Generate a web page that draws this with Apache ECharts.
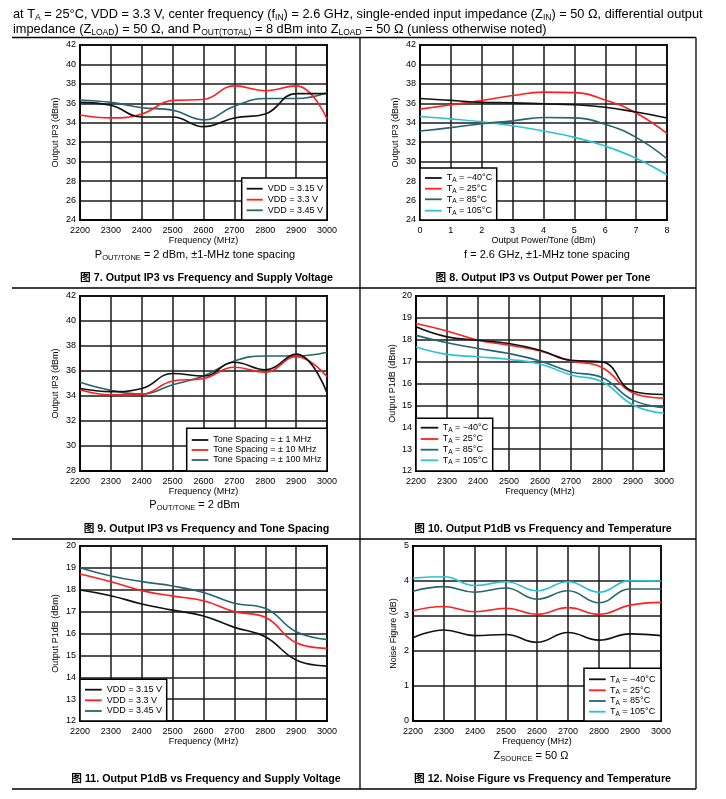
<!DOCTYPE html>
<html><head><meta charset="utf-8">
<script src="https://cdn.jsdelivr.net/npm/echarts@6/dist/echarts.min.js"></script>
<style>html,body{margin:0;padding:0;background:#fff}#c{width:726px;height:799px}</style>
</head><body><div id="c"></div>
<script>
const FONT = '"Liberation Sans", Arial, "Noto Sans CJK SC", sans-serif';
const CFONT = '"Liberation Sans", Arial, "Noto Sans CJK SC", sans-serif';

// ---------- data ----------
const freq = [2200, 2300, 2400, 2500, 2600, 2700, 2800, 2900, 3000];
const powerTone = [0, 1, 2, 3, 4, 5, 6, 7, 8];

// Fig 7: Output IP3 vs frequency, supply voltage
const f7_vdd315 = [36.1, 35.8, 34.6, 34.6, 33.6, 34.5, 34.9, 37.0, 37.0];
const f7_vdd33  = [34.8, 34.5, 34.9, 36.3, 36.4, 37.8, 37.3, 37.8, 34.4];
const f7_vdd345 = [36.35, 36.1, 35.55, 35.3, 34.3, 35.7, 36.5, 36.5, 37.1];

// Fig 8: Output IP3 vs output power per tone, temperature
const f8_m40  = [36.5, 36.3, 36.1, 36.05, 35.95, 35.85, 35.6, 35.1, 34.5];
const f8_25   = [35.4, 35.85, 36.3, 36.8, 37.15, 37.1, 36.35, 35.0, 32.9];
const f8_85   = [33.15, 33.5, 33.9, 34.2, 34.55, 34.5, 33.85, 32.5, 30.3];
const f8_105  = [34.65, 34.4, 34.1, 33.7, 33.15, 32.5, 31.6, 30.35, 28.65];

// Fig 9: Output IP3 vs frequency, tone spacing
const f9_1   = [34.6, 34.35, 34.6, 35.8, 35.6, 36.7, 36.1, 37.35, 34.25];
const f9_10  = [34.5, 34.1, 34.15, 35.2, 35.4, 36.3, 35.9, 37.15, 35.55];
const f9_100 = [35.1, 34.45, 34.15, 34.9, 35.6, 36.8, 37.2, 37.2, 37.5];

// Fig 10: Output P1dB vs frequency, temperature
const f10_m40 = [18.59, 18.13, 17.98, 17.83, 17.52, 17.06, 16.99, 15.65, 15.5];
const f10_25  = [18.74, 18.4, 17.98, 17.75, 17.49, 17.03, 16.73, 15.57, 15.33];
const f10_85  = [18.2, 17.86, 17.6, 17.37, 17.03, 16.53, 16.27, 15.24, 14.9];
const f10_105 = [17.67, 17.33, 17.22, 17.1, 16.89, 16.39, 16.08, 15.02, 14.64];

// Fig 11: Output P1dB vs frequency, supply voltage
const f11_vdd315 = [17.99, 17.73, 17.35, 17.07, 16.8, 16.28, 15.85, 14.79, 14.51];
const f11_vdd33  = [18.72, 18.37, 17.96, 17.71, 17.5, 17.0, 16.74, 15.58, 15.32];
const f11_vdd345 = [19.01, 18.63, 18.37, 18.17, 17.87, 17.38, 17.15, 16.08, 15.73];

// Fig 12: Noise figure vs frequency, temperature
const f12_m40 = [2.38, 2.6, 2.44, 2.47, 2.25, 2.53, 2.31, 2.49, 2.44];
const f12_25  = [3.15, 3.27, 3.12, 3.22, 3.05, 3.24, 3.05, 3.31, 3.39];
const f12_85  = [3.71, 3.84, 3.68, 3.8, 3.48, 3.72, 3.38, 3.77, 3.77];
const f12_105 = [4.08, 4.12, 3.87, 3.98, 3.72, 3.98, 3.68, 4.01, 4.0];

// ---------- text ----------
const vddLabels  = ['VDD = 3.15 V', 'VDD = 3.3 V', 'VDD = 3.45 V'];
const tempLabels = ['T{s|A} = \u221240\u00B0C', 'T{s|A} = 25\u00B0C', 'T{s|A} = 85\u00B0C', 'T{s|A} = 105\u00B0C'];
const toneLabels = ['Tone Spacing = \u00B1 1 MHz', 'Tone Spacing = \u00B1 10 MHz', 'Tone Spacing = \u00B1 100 MHz'];
const headerLines = [
  'at T{s|A} = 25\u00B0C, VDD = 3.3 V, center frequency (f{s|IN}) = 2.6 GHz, single-ended input impedance (Z{s|IN}) = 50 \u03A9, differential output',
  'impedance (Z{s|LOAD}) = 50 \u03A9, and P{s|OUT(TOTAL)} = 8 dBm into Z{s|LOAD} = 50 \u03A9 (unless otherwise noted)'
];
const captions = [
  '\u56FE 7. Output IP3 vs Frequency and Supply Voltage',
  '\u56FE 8. Output IP3 vs Output Power per Tone',
  '\u56FE 9. Output IP3 vs Frequency and Tone Spacing',
  '\u56FE 10. Output P1dB vs Frequency and Temperature',
  '\u56FE 11. Output P1dB vs Frequency and Supply Voltage',
  '\u56FE 12. Noise Figure vs Frequency and Temperature'
];
const subtitles = [
  'P{s|OUT/TONE} = 2 dBm, \u00B11-MHz tone spacing',
  'f = 2.6 GHz, \u00B11-MHz tone spacing',
  'P{s|OUT/TONE} = 2 dBm',
  '',
  '',
  'Z{s|SOURCE} = 50 \u03A9'
];
const freqName = 'Frequency (MHz)';
const ip3Name = 'Output IP3 (dBm)';
const p1dbName = 'Output P1dB (dBm)';
const nfName = 'Noise Figure (dB)';
const powName = 'Output Power/Tone (dBm)';

// ---------- style ----------
const C_BLACK = '#111111', C_RED = '#ff1f1f', C_TEAL = '#266470', C_CYAN = '#2cc2d4';
const col3 = [C_BLACK, C_RED, C_TEAL];
const col4 = [C_BLACK, C_RED, C_TEAL, C_CYAN];

const panels = [
  { grid: {left: 80, top: 45, width: 247, height: 175}, xs: freq, xr: [2200, 3000, 100], yr: [24, 42, 2],
    xName: freqName, yName: ip3Name, yGap: 20, ys: [f7_vdd315, f7_vdd33, f7_vdd345], labels: vddLabels, colors: col3,
    leg: {x: 241.7, y: 178, w: 85.3, h: 42, rows: [188.7, 199.7, 210.3], sx: 246.7, sw: 16, tx: 267.7},
    sub: [195, 255], cap: [206.5, 278] },
  { grid: {left: 420, top: 45, width: 247, height: 175}, xs: powerTone, xr: [0, 8, 1], yr: [24, 42, 2],
    xName: powName, yName: ip3Name, yGap: 20, ys: [f8_m40, f8_25, f8_85, f8_105], labels: tempLabels, colors: col4,
    leg: {x: 420, y: 168, w: 76.7, h: 52, rows: [178, 188.7, 199.3, 210.7], sx: 425, sw: 16.7, tx: 446.7},
    sub: [547, 255], cap: [543, 278] },
  { grid: {left: 80, top: 296, width: 247, height: 175}, xs: freq, xr: [2200, 3000, 100], yr: [28, 42, 2],
    xName: freqName, yName: ip3Name, yGap: 20, ys: [f9_1, f9_10, f9_100], labels: toneLabels, colors: col3,
    leg: {x: 186.7, y: 428.3, w: 140.3, h: 42.7, rows: [440, 450, 460], sx: 191.7, sw: 16.6, tx: 213.3},
    sub: [194.5, 505], cap: [206.5, 529] },
  { grid: {left: 416, top: 296, width: 248, height: 175}, xs: freq, xr: [2200, 3000, 100], yr: [12, 20, 1],
    xName: freqName, yName: p1dbName, yGap: 19, ys: [f10_m40, f10_25, f10_85, f10_105], labels: tempLabels, colors: col4,
    leg: {x: 416, y: 418.3, w: 76.7, h: 52.7, rows: [427.7, 439, 449.7, 460.3], sx: 420.7, sw: 17.6, tx: 442.7},
    sub: null, cap: [543, 529] },
  { grid: {left: 80, top: 546, width: 247, height: 175}, xs: freq, xr: [2200, 3000, 100], yr: [12, 20, 1],
    xName: freqName, yName: p1dbName, yGap: 20, ys: [f11_vdd315, f11_vdd33, f11_vdd345], labels: vddLabels, colors: col3,
    leg: {x: 80, y: 679.3, w: 86.7, h: 41.7, rows: [689.7, 700.3, 711], sx: 85, sw: 16.7, tx: 106.7},
    sub: null, cap: [206, 779] },
  { grid: {left: 413, top: 546, width: 248, height: 175}, xs: freq, xr: [2200, 3000, 100], yr: [0, 5, 1],
    xName: freqName, yName: nfName, yGap: 15, ys: [f12_m40, f12_25, f12_85, f12_105], labels: tempLabels, colors: col4,
    leg: {x: 584, y: 668.3, w: 77, h: 52.7, rows: [679.3, 690.3, 701, 711.7], sx: 589, sw: 16.7, tx: 610},
    sub: [531, 756], cap: [542.5, 779] }
];

const subRich = { s: { fontSize: 7.5, fontFamily: FONT, verticalAlign: 'bottom', lineHeight: 9, fill: '#000' } };

const grids = [], xAxes = [], yAxes = [], series = [], graphics = [];
panels.forEach((p, i) => {
  grids.push(Object.assign({ show: true, borderColor: '#000', borderWidth: 2, containLabel: false }, p.grid));
  const common = {
    gridIndex: i, type: 'value', nameLocation: 'middle',
    axisLine: { show: true, lineStyle: { color: '#000', width: 1.5 } },
    axisTick: { show: false },
    splitLine: { show: true, lineStyle: { color: '#1a1a1a', width: 1.5 } },
    axisLabel: { color: '#000', fontSize: 9, fontFamily: FONT, formatter: v => String(v) },
    nameTextStyle: { color: '#000', fontSize: 9, fontFamily: FONT }
  };
  xAxes.push(Object.assign({}, common, { min: p.xr[0], max: p.xr[1], interval: p.xr[2], name: p.xName, nameGap: 15,
    axisLabel: Object.assign({}, common.axisLabel, { margin: 6 }) }));
  yAxes.push(Object.assign({}, common, { min: p.yr[0], max: p.yr[1], interval: p.yr[2], name: p.yName, nameGap: p.yGap,
    axisLabel: Object.assign({}, common.axisLabel, { margin: 4 }) }));
  p.ys.forEach((arr, k) => {
    series.push({
      type: 'line', xAxisIndex: i, yAxisIndex: i, name: 'p' + i + '_' + k,
      data: p.xs.map((x, j) => [x, arr[j]]), smooth: 0.45, symbol: 'none',
      lineStyle: { color: p.colors[k], width: 1.6 }, itemStyle: { color: p.colors[k] }, z: 3 + (p.ys.length - k)
    });
  });
  // legend box
  const L = p.leg;
  graphics.push({ type: 'rect', z: 100, shape: { x: L.x, y: L.y, width: L.w, height: L.h },
    style: { fill: '#fff', stroke: '#000', lineWidth: 1.5 } });
  p.labels.forEach((t, k) => {
    graphics.push({ type: 'line', z: 101, shape: { x1: L.sx, y1: L.rows[k], x2: L.sx + L.sw, y2: L.rows[k] },
      style: { stroke: p.colors[k], lineWidth: 1.8 } });
    graphics.push({ type: 'text', z: 101, x: L.tx, y: L.rows[k],
      style: { text: t, fontSize: 9, fontFamily: FONT, fill: '#000', align: 'left', verticalAlign: 'middle', lineHeight: 11,
        rich: { s: { fontSize: 6.5, fontFamily: FONT, verticalAlign: 'bottom', lineHeight: 8, fill: '#000' } } } });
  });
  if (p.sub && subtitles[i]) {
    graphics.push({ type: 'text', x: p.sub[0], y: p.sub[1], z: 100,
      style: { text: subtitles[i], fontSize: 11, fontFamily: FONT, fill: '#000', align: 'center', verticalAlign: 'middle', lineHeight: 14, rich: subRich } });
  }
  graphics.push({ type: 'text', x: p.cap[0], y: p.cap[1], z: 100,
    style: { text: captions[i], fontSize: 10.7, fontWeight: 'bold', fontFamily: CFONT, fill: '#000', align: 'center', verticalAlign: 'middle' } });
});

// header
headerLines.forEach((t, k) => {
  graphics.push({ type: 'text', x: 13, y: 14 + k * 15, z: 100,
    style: { text: t, fontSize: 12.8, fontFamily: FONT, fill: '#000', align: 'left', verticalAlign: 'middle', lineHeight: 15,
      rich: { s: { fontSize: 8.5, fontFamily: FONT, verticalAlign: 'bottom', lineHeight: 10, fill: '#000' } } } });
});
// table lines
const hLines = [37.5, 288, 539, 789];
hLines.forEach(y => graphics.push({ type: 'line', z: 90, shape: { x1: 12, y1: y, x2: 696, y2: y }, style: { stroke: '#000', lineWidth: 1.3 } }));
[360, 696].forEach(x => graphics.push({ type: 'line', z: 90, shape: { x1: x, y1: 37.5, x2: x, y2: 789 }, style: { stroke: '#000', lineWidth: 1.3 } }));

const chart = echarts.init(document.getElementById('c'), null, { renderer: 'canvas' });
chart.setOption({
  animation: false, backgroundColor: '#fff',
  grid: grids, xAxis: xAxes, yAxis: yAxes, series, graphic: graphics
});
</script></body></html>
